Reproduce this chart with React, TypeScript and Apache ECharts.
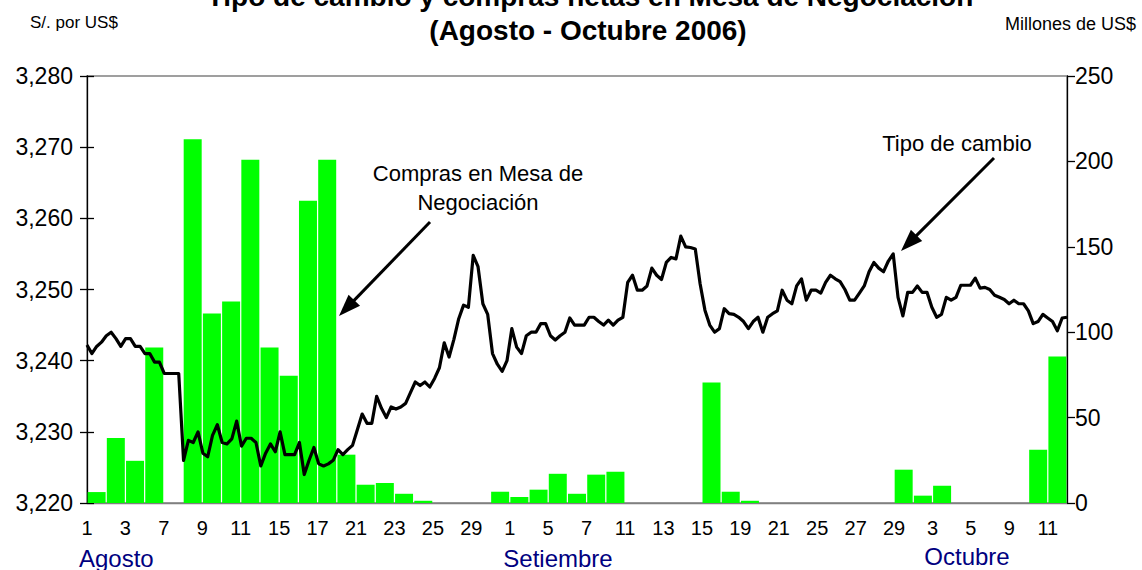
import React, { useEffect, useRef } from "react";
import * as echarts from "echarts";

// Business days (Peru), Aug 1 – Oct 11, 2006
const diasAgosto = [1, 2, 3, 4, 7, 8, 9, 10, 11, 14, 15, 16, 17, 18, 21, 22, 23, 24, 25, 28, 29, 31];
const diasSetiembre = [1, 4, 5, 6, 7, 8, 11, 12, 13, 14, 15, 18, 19, 20, 21, 22, 25, 26, 27, 28, 29];
const diasOctubre = [2, 3, 4, 5, 6, 9, 10, 11];

// Compras netas en Mesa de Negociación (millones de US$), one per business day
const comprasAgosto = [6.4, 38, 24.7, 91, 0, 213, 111, 118, 201, 91, 74.5, 177, 201, 28.3, 10.7, 11.7, 5.4, 1.3, 0, 0, 0, 6.6];
const comprasSetiembre = [3.5, 7.8, 17.1, 5.4, 16.6, 18.3, 0, 0, 0, 0, 70.6, 6.6, 1.3, 0, 0, 0, 0, 0, 0, 0, 19.5];
const comprasOctubre = [4.3, 10.1, 0, 0, 0, 0, 31.2, 85.8];

// Tipo de cambio intradiario (S/. por US$), four readings per business day
const tipoAgosto = [
  3242.2, 3241.0, 3242.0, 3242.6, 3243.5, 3244.0, 3243.1, 3242.0, 3243.1, 3243.1,
  3242.0, 3242.0, 3241.0, 3241.0, 3239.8, 3239.8, 3238.2, 3238.2, 3238.2, 3238.2,
  3226.0, 3228.8, 3228.5, 3230.0, 3227.0, 3226.5, 3229.5, 3231.0, 3228.5, 3228.3,
  3229.0, 3231.5, 3228.0, 3229.1, 3229.1, 3228.5, 3225.2, 3227.0, 3228.3, 3227.2,
  3230.0, 3226.8, 3226.8, 3226.8, 3228.5, 3224.0, 3226.0, 3227.8, 3225.5, 3225.2,
  3225.5, 3226.0, 3227.5, 3226.8, 3227.5, 3228.1, 3230.3, 3232.5, 3231.2, 3231.2,
  3235.0, 3233.3, 3232.0, 3233.5, 3233.2, 3233.5, 3234.0, 3235.5, 3237.0, 3236.5,
  3237.0, 3236.3, 3237.5, 3239.0, 3242.5, 3240.5, 3243.0, 3245.9, 3247.8, 3247.5,
  3254.8, 3253.2, 3248.0, 3246.5, 3241.0, 3239.5, 3238.5, 3240.0,
];
const tipoSetiembre = [
  3244.5, 3241.9,
  3241.0, 3243.5, 3244.0, 3244.0, 3245.2, 3245.2, 3243.5, 3242.9, 3243.5, 3244.0,
  3246.0, 3245.0, 3245.0, 3245.0, 3246.1, 3246.1, 3245.5, 3245.0, 3245.7, 3245.0,
  3245.7, 3246.1, 3251.0, 3252.0, 3249.9, 3249.9, 3250.5, 3253.0, 3252.0, 3251.4,
  3253.8, 3254.5, 3254.3, 3257.5, 3256.0, 3255.9, 3255.7, 3250.8, 3247.1, 3245.0,
  3244.0, 3244.5, 3247.3, 3246.6, 3246.5, 3246.1, 3245.5, 3244.5, 3245.5, 3246.1,
  3244.0, 3246.1, 3246.6, 3247.0, 3249.9, 3248.5, 3248.0, 3250.5, 3251.5, 3248.5,
  3249.9, 3249.9, 3249.5, 3251.0, 3252.0, 3251.5, 3251.1, 3250.0, 3248.5, 3248.5,
  3249.5, 3250.5, 3252.5, 3253.8, 3253.0, 3252.5, 3254.0, 3255.0, 3248.9, 3246.3,
  3249.6, 3249.6,
];
const tipoOctubre = [
  3250.5, 3249.6, 3249.6, 3247.5, 3246.1, 3246.5, 3248.9, 3248.5,
  3248.9, 3250.6, 3250.6, 3250.6, 3251.6, 3250.2, 3250.3, 3250.0, 3249.2, 3248.9,
  3248.6, 3248.0, 3248.5, 3248.0, 3248.0, 3247.0, 3245.2, 3245.5, 3246.5, 3246.0,
  3245.5, 3244.2, 3246.0, 3246.1,
];

const meses = ["Agosto", "Setiembre", "Octubre"];

const FONT = '"Liberation Sans", Arial, sans-serif';

function arrow(x1: number, y1: number, x2: number, y2: number) {
  const dx = x2 - x1;
  const dy = y2 - y1;
  const len = Math.sqrt(dx * dx + dy * dy);
  const ux = dx / len;
  const uy = dy / len;
  const headL = 22;
  const headW = 8;
  const bx = x2 - ux * headL;
  const by = y2 - uy * headL;
  return [
    {
      type: "line",
      shape: { x1, y1, x2: bx + ux * 2, y2: by + uy * 2 },
      style: { stroke: "#000", lineWidth: 3 },
      silent: true,
    },
    {
      type: "polygon",
      shape: {
        points: [
          [x2, y2],
          [bx - uy * headW, by + ux * headW],
          [bx + uy * headW, by - ux * headW],
        ],
      },
      style: { fill: "#000" },
      silent: true,
    },
  ];
}

function fmtThousands(v: number) {
  const s = String(Math.round(v));
  return s.length > 3 ? s.slice(0, s.length - 3) + "," + s.slice(-3) : s;
}

export default function App() {
  const ref = useRef<HTMLDivElement>(null);

  useEffect(() => {
    if (!ref.current) return;
    const chart = echarts.init(ref.current, undefined, { renderer: "svg" });

    const dias = [...diasAgosto, ...diasSetiembre, ...diasOctubre];
    const compras = [...comprasAgosto, ...comprasSetiembre, ...comprasOctubre];
    const tipo = [...tipoAgosto, ...tipoSetiembre, ...tipoOctubre];

    const option: any = {
      animation: false,
      textStyle: { fontFamily: FONT },
      grid: {
        left: 87,
        right: 75,
        top: 76,
        bottom: 67,
        show: true,
        borderColor: "#808080",
        borderWidth: 1.3,
        backgroundColor: "transparent",
      },
      xAxis: [
        {
          type: "value",
          min: 0,
          max: dias.length,
          interval: 2,
          axisLine: { show: true, onZero: false, lineStyle: { color: "#808080", width: 1.3 } },
          axisTick: { show: false },
          splitLine: { show: false },
          axisLabel: {
            showMaxLabel: false,
            fontSize: 20,
            color: "#000",
            fontFamily: FONT,
            margin: 15,
            formatter: (v: number) =>
              Number.isInteger(v) && v >= 0 && v < dias.length ? String(dias[v]) : "",
          },
        },
        {
          type: "category",
          data: tipo.map((_, i) => i),
          boundaryGap: false,
          show: false,
        },
      ],
      yAxis: [
        {
          type: "value",
          position: "left",
          min: 3220,
          max: 3280,
          interval: 10,
          axisLine: { show: true, lineStyle: { color: "#000", width: 1.3 } },
          axisTick: { show: true, length: 7, lineStyle: { color: "#000", width: 1.3 } },
          splitLine: { show: false },
          axisLabel: {
            fontSize: 23,
            color: "#000",
            fontFamily: FONT,
            margin: 14,
            formatter: (v: number) => fmtThousands(v),
          },
        },
        {
          type: "value",
          position: "right",
          min: 0,
          max: 250,
          interval: 50,
          axisLine: { show: true, lineStyle: { color: "#000", width: 1.3 } },
          axisTick: { show: true, length: 8, lineStyle: { color: "#000", width: 1.3 } },
          splitLine: { show: false },
          axisLabel: { fontSize: 23, color: "#000", fontFamily: FONT, margin: 8 },
        },
        {
          type: "value",
          position: "left",
          min: 3220,
          max: 3280,
          interval: 10,
          axisLine: { show: false },
          axisTick: { show: true, inside: true, length: 7, lineStyle: { color: "#000", width: 1.3 } },
          splitLine: { show: false },
          axisLabel: { show: false },
        },
      ],
      series: [
        {
          type: "bar",
          name: "Compras en Mesa de Negociación",
          xAxisIndex: 0,
          yAxisIndex: 1,
          barWidth: 18,
          data: compras.map((v, i) => [i + 0.5, v]),
          itemStyle: { color: "#00ff00" },
          z: 2,
        },
        {
          type: "line",
          name: "Tipo de cambio",
          xAxisIndex: 1,
          yAxisIndex: 0,
          data: tipo,
          symbol: "none",
          showSymbol: false,
          lineStyle: { color: "#000", width: 3.2, join: "round" },
          z: 3,
        },
      ],
      graphic: [
        {
          type: "text",
          x: 590,
          y: -4,
          style: {
            text: "Tipo de cambio y compras netas en Mesa de Negociación",
            fontSize: 28,
            fontWeight: "bold",
            fontFamily: FONT,
            fill: "#000",
            align: "center",
            verticalAlign: "middle",
          },
        },
        {
          type: "text",
          x: 588,
          y: 30,
          style: {
            text: "(Agosto - Octubre 2006)",
            fontSize: 28,
            fontWeight: "bold",
            fontFamily: FONT,
            fill: "#000",
            align: "center",
            verticalAlign: "middle",
          },
        },
        {
          type: "text",
          x: 30,
          y: 22,
          style: { text: "S/. por US$", fontSize: 17, fontFamily: FONT, fill: "#000", align: "left", verticalAlign: "middle" },
        },
        {
          type: "text",
          x: 1136,
          y: 24,
          style: { text: "Millones de US$", fontSize: 18, fontFamily: FONT, fill: "#000", align: "right", verticalAlign: "middle" },
        },
        {
          type: "text",
          x: 478,
          y: 173,
          style: { text: "Compras en Mesa de", fontSize: 22, fontFamily: FONT, fill: "#000", align: "center", verticalAlign: "middle" },
        },
        {
          type: "text",
          x: 478,
          y: 202,
          style: { text: "Negociación", fontSize: 22, fontFamily: FONT, fill: "#000", align: "center", verticalAlign: "middle" },
        },
        {
          type: "text",
          x: 957,
          y: 143,
          style: { text: "Tipo de cambio", fontSize: 22, fontFamily: FONT, fill: "#000", align: "center", verticalAlign: "middle" },
        },
        ...arrow(430, 222, 339, 316),
        ...arrow(994, 158, 901, 251),
        {
          type: "text",
          x: 79,
          y: 558,
          style: { text: meses[0], fontSize: 24, fontFamily: FONT, fill: "#000080", align: "left", verticalAlign: "middle" },
        },
        {
          type: "text",
          x: 558,
          y: 558,
          style: { text: meses[1], fontSize: 24, fontFamily: FONT, fill: "#000080", align: "center", verticalAlign: "middle" },
        },
        {
          type: "text",
          x: 967,
          y: 556,
          style: { text: meses[2], fontSize: 24, fontFamily: FONT, fill: "#000080", align: "center", verticalAlign: "middle" },
        },
      ],
    };

    chart.setOption(option);
    return () => chart.dispose();
  }, []);

  return <div ref={ref} style={{ width: 1142, height: 570, position: "absolute", left: 0, top: 0 }} />;
}
